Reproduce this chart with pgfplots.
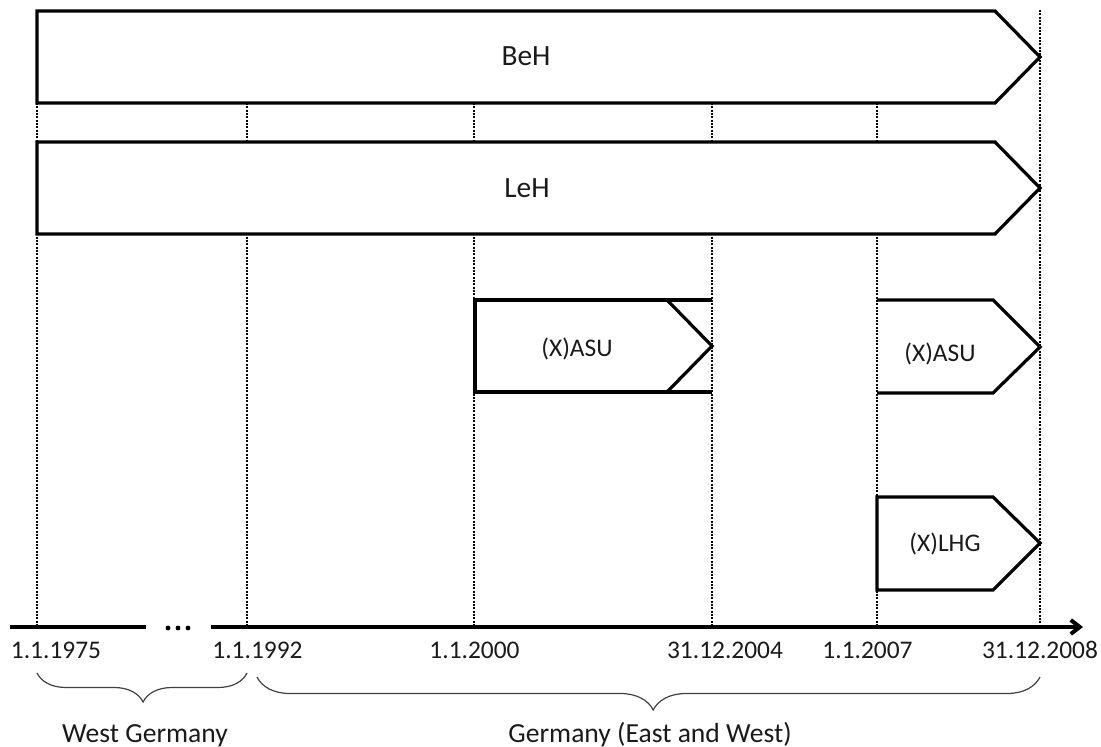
\documentclass[border=0pt]{standalone}
\usepackage{fontspec}
\setmainfont{Carlito}
\usepackage{pgfplots}
\pgfplotsset{compat=1.18}
\usetikzlibrary{decorations.pathreplacing, arrows.meta}
\newcommand{\bigf}{\fontsize{14.7}{17}\selectfont}
\newcommand{\smallf}{\fontsize{12.7}{15}\selectfont}
\newcommand{\bracef}{\fontsize{13.8}{16}\selectfont}
\definecolor{txt}{HTML}{1A1A1A}
\begin{document}
\begin{tikzpicture}
\begin{axis}[
  width=550.5pt, height=373pt, scale only axis,
  xmin=0, xmax=1101, ymin=-746, ymax=0,
  axis lines=none, ticks=none, clip=false,
  every axis plot/.append style={black},
  dotline/.style={line width=1.15pt, dash pattern=on 1pt off 0.67pt},
  box/.style={line width=1.6pt, line join=miter},
]
% dotted guide lines
\addplot[dotline] coordinates {(37,-103) (37,-627)};
\addplot[dotline] coordinates {(247,-103) (247,-627)};
\addplot[dotline] coordinates {(474,-103) (474,-627)};
\addplot[dotline] coordinates {(712,-103) (712,-627)};
\addplot[dotline] coordinates {(877,-103) (877,-627)};
\addplot[dotline] coordinates {(1040,-10) (1040,-627)};
% BeH
\addplot[box, fill=white] coordinates {(37,-11) (995,-11) (1040,-57) (995,-103) (37,-103)} -- cycle;
% LeH
\addplot[box, fill=white] coordinates {(37,-142) (995,-142) (1040,-188) (995,-234) (37,-234)} -- cycle;
% (X)ASU first
\addplot[box] coordinates {(712,-300) (475,-300) (475,-392) (712,-392)};
\addplot[box] coordinates {(667,-300) (712,-346) (667,-392)};
% (X)ASU second
\addplot[box] coordinates {(877,-300) (993,-300) (1040,-347) (993,-393) (877,-393)};
% (X)LHG
\addplot[box, fill=white] coordinates {(877,-497) (993,-497) (1040,-543) (993,-590) (877,-590)} -- cycle;
% time axis
\addplot[line width=2pt] coordinates {(10,-627) (146,-627)};
\addplot[line width=2pt, -{Straight Barb[length=4.5pt, width=7pt]}] coordinates {(211,-627) (1083,-627)};
\addplot[only marks, mark=*, mark size=1pt] coordinates {(168,-628) (178,-628) (188,-628)};
% braces
\addplot[line width=0.6pt, black!75, decorate, decoration={brace, mirror, amplitude=14.5pt, aspect=0.505}] coordinates {(37,-673) (247,-673)};
\addplot[line width=0.6pt, black!75, decorate, decoration={brace, mirror, amplitude=16.5pt, aspect=0.506}] coordinates {(257,-677) (1040,-677)};
% texts
\node[font=\bigf, text=txt, anchor=base] at (axis cs:526,-66) {BeH};
\node[font=\bigf, text=txt, anchor=base] at (axis cs:527,-197) {LeH};
\node[font=\smallf, text=txt, anchor=base] at (axis cs:577,-356) {(X)ASU};
\node[font=\smallf, text=txt, anchor=base] at (axis cs:940,-361) {(X)ASU};
\node[font=\smallf, text=txt, anchor=base] at (axis cs:945,-551) {(X)LHG};
\node[font=\smallf, text=txt, anchor=base] at (axis cs:56,-658) {1.1.1975};
\node[font=\smallf, text=txt, anchor=base] at (axis cs:257.5,-658) {1.1.1992};
\node[font=\smallf, text=txt, anchor=base] at (axis cs:474.5,-658) {1.1.2000};
\node[font=\smallf, text=txt, anchor=base] at (axis cs:725,-658) {31.12.2004};
\node[font=\smallf, text=txt, anchor=base] at (axis cs:867.5,-658) {1.1.2007};
\node[font=\smallf, text=txt, anchor=base] at (axis cs:1040,-658) {31.12.2008};
\node[font=\bracef, text=txt, anchor=base] at (axis cs:145,-742) {West Germany};
\node[font=\bracef, text=txt, anchor=base] at (axis cs:650,-742) {Germany (East and West)};
\coordinate (sw) at (axis cs:0,-746);
\coordinate (ne) at (axis cs:1101,0);
\end{axis}
\pgfresetboundingbox
\path[use as bounding box] (sw) rectangle (ne);
\end{tikzpicture}
\end{document}
